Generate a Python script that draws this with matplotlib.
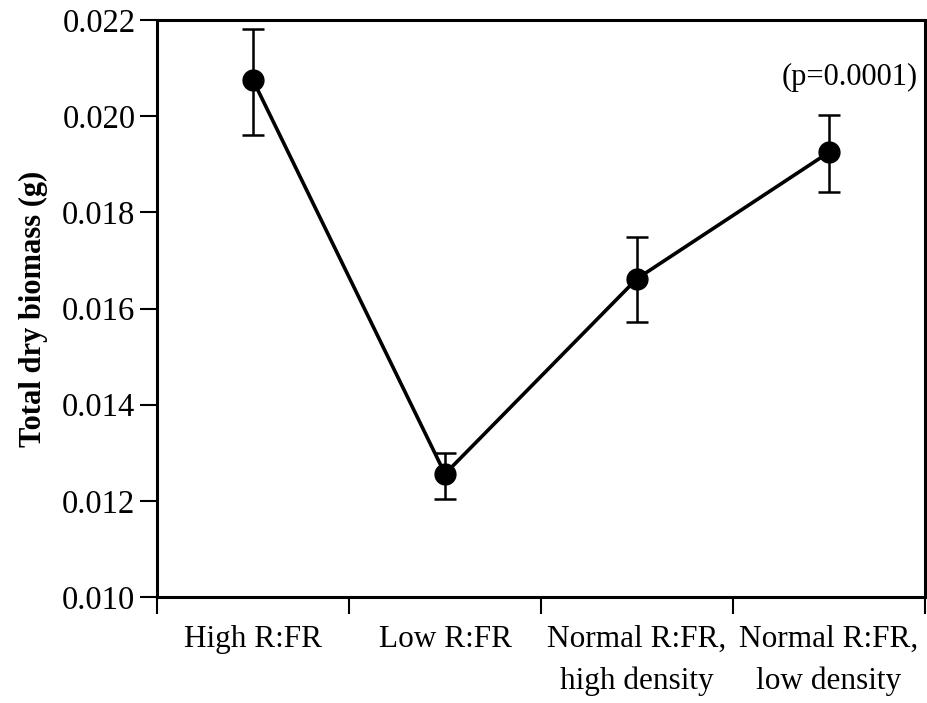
import matplotlib.pyplot as plt
import numpy as np

# treatment groups and means
categories = ["High R:FR", "Low R:FR", "Normal R:FR,\nhigh density", "Normal R:FR,\nlow density"]
biomass = [0.02075, 0.01256, 0.01662, 0.01925]
err_low = [0.00115, 0.00052, 0.00090, 0.00082]
err_high = [0.00106, 0.00044, 0.00087, 0.00077]
y_ticks = [0.010, 0.012, 0.014, 0.016, 0.018, 0.020, 0.022]

plt.rcParams['font.family'] = ['Liberation Serif', 'DejaVu Serif']

fig = plt.figure(figsize=(9.27, 7.03), dpi=100)
ax = fig.add_axes([157 / 927, 1 - 597 / 703, (925 - 157) / 927, (597 - 20) / 703])

x = np.arange(len(categories)) + 0.5
ax.errorbar(x, biomass, yerr=[err_low, err_high], fmt='o-', color='black',
            lw=2.6, ms=15, elinewidth=1.8, capsize=8, capthick=1.8)

ax.set_xlim(0, 4)
ax.set_ylim(0.010, 0.022)
ax.set_xticks(np.arange(5))
ax.set_xticklabels([])
ax.set_xticks(x, minor=True)
ax.set_xticklabels(categories, minor=True, fontsize=22.5, linespacing=1.55)
ax.tick_params(axis='x', which='minor', length=0, pad=20)
ax.tick_params(axis='x', which='major', direction='out', length=12, width=1.5)
ax.set_yticks(y_ticks)
ax.set_yticklabels(["%.3f" % v for v in y_ticks], fontsize=23.5)
ax.tick_params(axis='y', direction='out', length=12, width=1.5)

for s in ax.spines.values():
    s.set_linewidth(2.2)

ax.set_ylabel("Total dry biomass (g)", fontsize=22, fontweight='bold', labelpad=10)
ax.text(0.99, 0.90, "(p=0.0001)", transform=ax.transAxes, ha='right', va='center', fontsize=22)

fig.savefig("out.png", dpi=100)
